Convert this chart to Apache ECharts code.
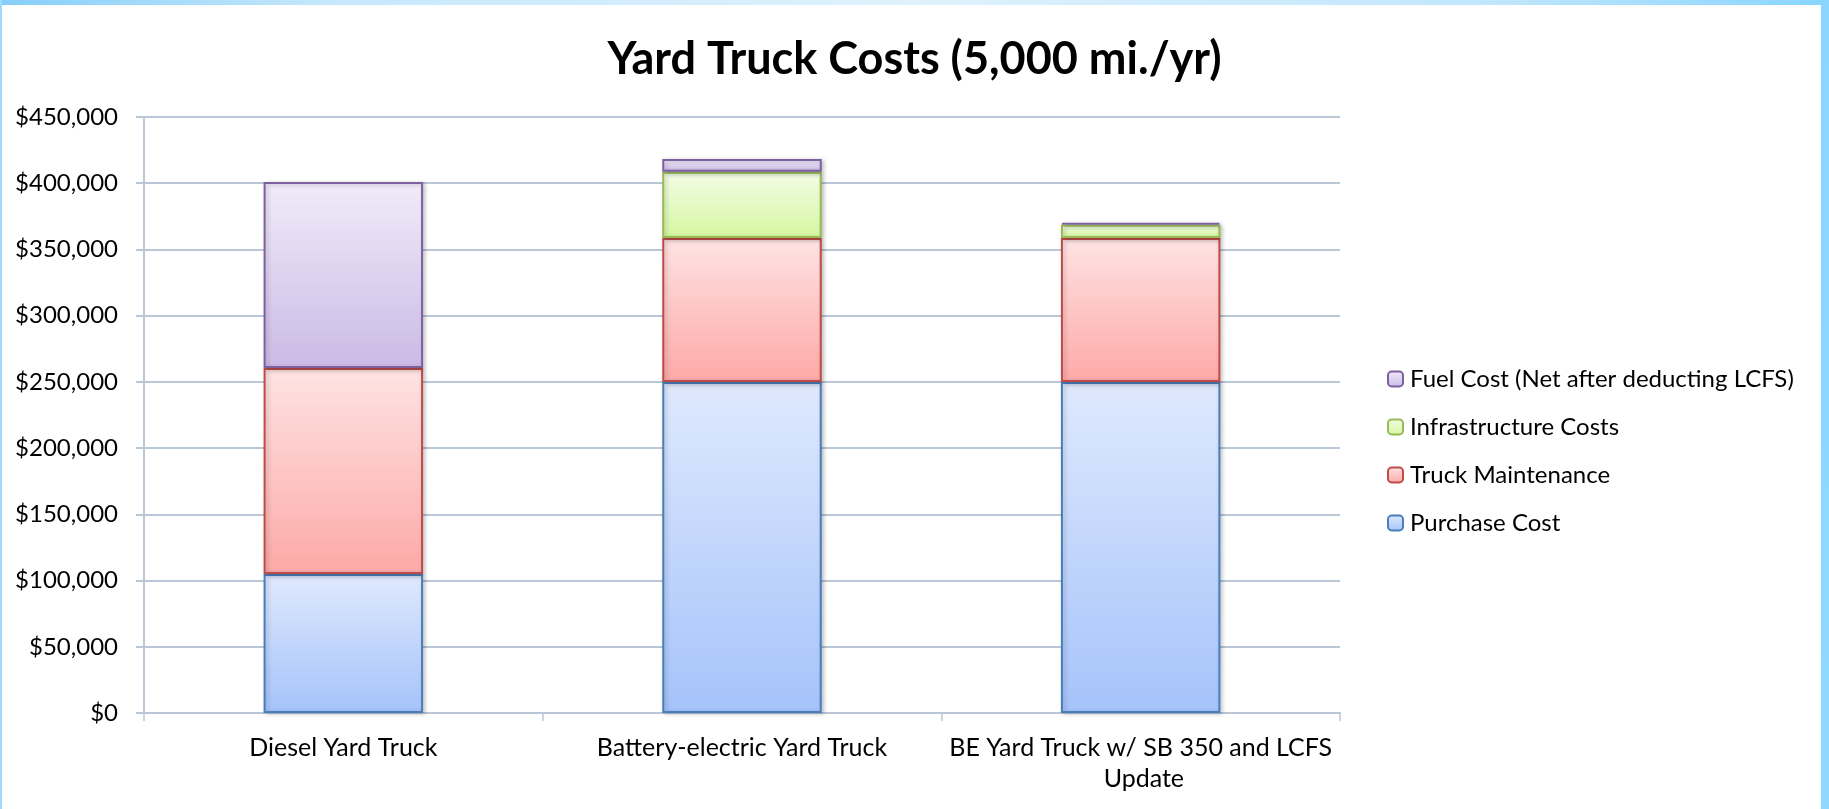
<!DOCTYPE html>
<html>
<head>
<meta charset="utf-8">
<script src="https://cdn.jsdelivr.net/npm/echarts@6/dist/echarts.min.js"></script>
<style>
  html, body { margin: 0; padding: 0; background: #ffffff; }
  #wrap { position: relative; width: 1829px; height: 809px; overflow: hidden; background: #ffffff; }
  #chart { position: absolute; left: 0; top: 0; width: 1829px; height: 809px; }
  .edge-top { position: absolute; left: 0; top: 0; width: 1829px; height: 5px;
    background: linear-gradient(to right, #86cffa 0%, #c6e8fc 18%, #dff2fd 50%, #c0e6fc 82%, #88d5fe 100%); }
  .edge-right { position: absolute; left: 1821px; top: 0; width: 8px; height: 809px;
    background: linear-gradient(to bottom, #8ad6fe, #90d8fe); }
  .edge-left { position: absolute; left: 0; top: 0; width: 2px; height: 809px; background: #9fdbfc; }
</style>
</head>
<body>
<div id="wrap">
  <div id="chart"></div>
  <div class="edge-top"></div>
  <div class="edge-right"></div>
  <div class="edge-left"></div>
</div>
<script>
// ---- data ----
const categories = ['Diesel Yard Truck', 'Battery-electric Yard Truck', 'BE Yard Truck w/ SB 350 and LCFS Update'];
const purchaseCost = [105000, 250000, 250000];
const truckMaintenance = [155500, 108700, 108700];
const infrastructureCosts = [0, 50000, 10000];
const fuelCost = [140500, 9500, 1500];
const seriesNames = ['Purchase Cost', 'Truck Maintenance', 'Infrastructure Costs', 'Fuel Cost (Net after deducting LCFS)'];
const yTicks = { min: 0, max: 450000, interval: 50000 };

const FONT = 'Lato';
function grad(top, bottom) {
  return new echarts.graphic.LinearGradient(0, 0, 0, 1, [
    { offset: 0, color: top }, { offset: 1, color: bottom }
  ]);
}
const styles = [
  { fill: grad('#dfe9fd', '#a5c3fa'), border: '#4a7ebb' },
  { fill: grad('#fee3e3', '#fca9a7'), border: '#be4b48' },
  { fill: grad('#f3fde6', '#d5f7a0'), border: '#98b954' },
  { fill: grad('#f1ebf9', '#cbbae6'), border: '#7d60a0' }
];
const values = [purchaseCost, truckMaintenance, infrastructureCosts, fuelCost];

const series = seriesNames.map((name, i) => ({
  name: name,
  type: 'bar',
  stack: 'total',
  barWidth: '40%',
  // zero-height segments are not drawn (as in the original)
  data: values[i].map(v => (v === 0 ? '-' : v)),
  itemStyle: {
    color: styles[i].fill,
    borderColor: styles[i].border,
    borderWidth: 2,
    shadowBlur: 4,
    shadowColor: 'rgba(0,0,0,0.22)',
    shadowOffsetX: 2,
    shadowOffsetY: 1
  },
  emphasis: { disabled: true }
}));

const chart = echarts.init(document.getElementById('chart'), null, { renderer: 'canvas' });
chart.setOption({
  animation: false,
  backgroundColor: 'transparent',
  title: {
    text: 'Yard Truck Costs (5,000 mi./yr)',
    left: 'center',
    top: 32,
    textStyle: { fontFamily: FONT, fontWeight: 'bold', fontSize: 45, color: '#000000' }
  },
  legend: {
    orient: 'vertical',
    left: 1382,
    top: 362,
    itemWidth: 15,
    itemHeight: 15,
    itemGap: 24,
    data: [seriesNames[3], seriesNames[2], seriesNames[1], seriesNames[0]],
    textStyle: { fontFamily: FONT, fontSize: 24, color: '#000000', lineHeight: 24, padding: [0, 0, 0, 2] }
  },
  grid: { left: 144, top: 117, width: 1196, height: 596, containLabel: false },
  xAxis: {
    type: 'category',
    data: categories,
    axisLine: { lineStyle: { color: '#b9c7d6', width: 2 } },
    axisTick: { show: true, length: 8, lineStyle: { color: '#b9c7d6', width: 1.5 } },
    axisLabel: {
      fontFamily: FONT, fontSize: 25, color: '#000000', margin: 19,
      lineHeight: 31, width: 392, overflow: 'break', interval: 0
    }
  },
  yAxis: {
    type: 'value',
    min: yTicks.min, max: yTicks.max, interval: yTicks.interval,
    axisLine: { show: true, lineStyle: { color: '#b9c7d6', width: 2 } },
    axisTick: { show: true, length: 8, lineStyle: { color: '#b9c7d6', width: 2 } },
    splitLine: { lineStyle: { color: '#b9c7d6', width: 2 } },
    axisLabel: {
      fontFamily: FONT, fontSize: 24, color: '#000000', margin: 26,
      formatter: v => '$' + v.toLocaleString('en-US')
    }
  },
  series: series
});
</script>
</body>
</html>
